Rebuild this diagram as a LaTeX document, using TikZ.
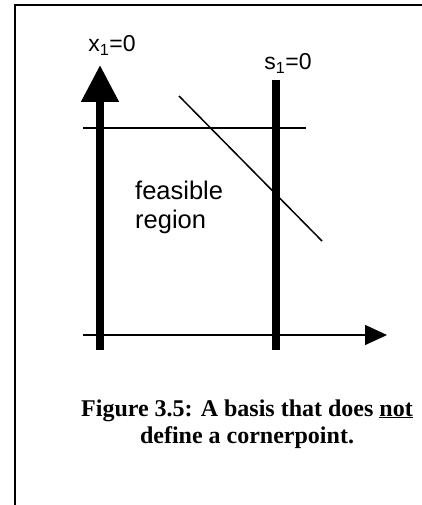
\documentclass[tikz,border=0pt]{standalone}
\usepackage{fontspec}
\setmainfont{Liberation Serif}
\setsansfont{Liberation Sans}
\usetikzlibrary{arrows.meta, positioning}

\begin{document}
\begin{tikzpicture}[
        x=1pt, y=-1pt,
        frame/.style={line width=2pt},
        bound/.style={line width=8pt},
        cut/.style={line width=1.5pt},
        axisarrow/.style={line width=1.5pt, -{Triangle[length=22pt, width=20pt]}},
        boundarrow/.style={line width=8pt, -{Triangle[length=37pt, width=36pt]}},
        lbl/.style={font=\sffamily\fontsize{23}{28}\selectfont, inner sep=0pt, align=left},
        caption/.style={font=\bfseries\fontsize{24}{27}\selectfont, inner sep=0pt, align=center}
    ]
        \useasboundingbox (0,0) rectangle (422,505);
        % frame (only top and left edges show)
        \coordinate (fbl) at (15,505);
        \coordinate (ftl) at (15,5.5);
        \coordinate (ftr) at (422,5.5);
        \draw[frame] (fbl) -- (ftl) -- (ftr);
        % constraint lines
        \coordinate (x1bot) at (100,350);
        \coordinate (x1top) at (100,65);
        \coordinate (s1bot) at (276,350);
        \coordinate (s1top) at (276,80);
        \coordinate (hl) at (83,128);
        \coordinate (hr) at (306,128);
        \coordinate (dtop) at (179,96);
        \coordinate (dbot) at (322,241);
        \coordinate (al) at (83,335);
        \coordinate (ar) at (387,335);
        \draw[boundarrow] (x1bot) -- (x1top);
        \draw[bound] (s1bot) -- (s1top);
        \draw[cut] (hl) -- (hr);
        \draw[cut] (dtop) -- (dbot);
        \draw[axisarrow] (al) -- (ar);
        % labels
        \node[lbl, anchor=base] (x1lbl) at (112,52) {x\textsubscript{1}=0};
        \node[lbl, anchor=base] (s1lbl) at (288,70) {s\textsubscript{1}=0};
        \node[lbl, anchor=base west, font=\sffamily\fontsize{25.5}{29}\selectfont] (feas) at (135,228) {feasible\\region};
        \node[caption, anchor=base] (cap) at (247,443) {Figure 3.5: A basis that does \underline{not}\\define a cornerpoint.};
    \end{tikzpicture}
\end{document}
